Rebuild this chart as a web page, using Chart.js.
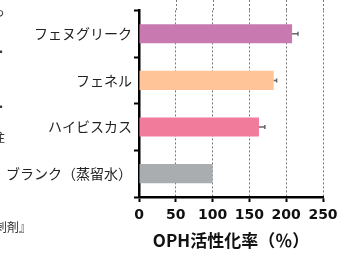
<!DOCTYPE html>
<html>
<head>
<meta charset="utf-8">
<script src="https://cdn.jsdelivr.net/npm/chart.js@4.4.1/dist/chart.umd.min.js"></script>
<style>
  html, body { margin: 0; padding: 0; background: #fff; }
  #wrap { position: relative; width: 340px; height: 253px; overflow: hidden; }
  .frag { position: absolute; font-family: 'Noto Sans CJK JP', sans-serif; font-size: 12px; color: #333; white-space: nowrap; }
</style>
</head>
<body>
<div id="wrap">
  <canvas id="chart" width="340" height="253"></canvas>
  <span class="frag" style="left:-7px;top:3px;">っ</span>
  <span class="frag" style="left:-5px;top:43px;">・</span>
  <span class="frag" style="left:-7px;top:73px;">。</span>
  <span class="frag" style="left:-5px;top:98px;">・</span>
  <span class="frag" style="left:-7px;top:128px;">注</span>
  <span class="frag" style="left:-5px;top:218px;">刺剤』</span>
</div>
<script>
const labels = ['フェヌグリーク', 'フェネル', 'ハイビスカス', 'ブランク（蒸留水）'];
const values = [208, 183, 163, 100];
const errors = [8, 4, 8, 0];
const barColors = ['#c87ab0', '#ffc497', '#f07b9b', '#a9adaf'];
const xTicks = [0, 50, 100, 150, 200, 250];

const fontFamily = "'Noto Sans CJK JP', 'Noto Sans', sans-serif";

// one sided error bars + dotted lines above the plot top
const extras = {
  id: 'extras',
  afterDatasetsDraw(chart) {
    const ctx = chart.ctx;
    const xs = chart.scales.x;
    const meta = chart.getDatasetMeta(0);
    ctx.save();
    ctx.strokeStyle = '#666';
    ctx.lineWidth = 1.5;
    meta.data.forEach((bar, i) => {
      if (!errors[i]) return;
      const x0 = xs.getPixelForValue(values[i]);
      const x1 = xs.getPixelForValue(values[i] + errors[i]);
      ctx.beginPath();
      ctx.moveTo(x0, bar.y);
      ctx.lineTo(x1, bar.y);
      ctx.moveTo(x1, bar.y - 2);
      ctx.lineTo(x1, bar.y + 2);
      ctx.stroke();
    });
    ctx.strokeStyle = '#777';
    ctx.lineWidth = 1;
    ctx.setLineDash([2, 2]);
    xTicks.forEach(v => {
      if (v === 0) return;
      const x = Math.round(xs.getPixelForValue(v)) + 0.5;
      ctx.beginPath();
      ctx.moveTo(x, 0);
      ctx.lineTo(x, chart.chartArea.top);
      ctx.stroke();
    });
    ctx.restore();
  }
};

const data = {
  labels: labels,
  datasets: [{
    data: values,
    backgroundColor: barColors,
    borderWidth: 0,
    categoryPercentage: 1,
    barPercentage: 0.41
  }]
};

const config = {
  type: 'bar',
  data: data,
  options: {
    indexAxis: 'y',
    responsive: false,
    animation: false,
    plugins: {
      legend: { display: false },
      tooltip: { enabled: false }
    },
    layout: {
      padding: { top: 9, right: 17, left: 0, bottom: 0 }
    },
    scales: {
      x: {
        min: 0,
        max: 250,
        afterBuildTicks(scale) {
          scale.ticks = xTicks.map(v => ({ value: v }));
        },
        afterFit(scale) {
          scale.height = 56;
          scale.paddingLeft = 0;
          scale.paddingRight = 0;
        },
        grid: {
          color: '#777',
          lineWidth: 1,
          tickColor: '#000',
          tickWidth: 2,
          tickLength: 5,
          tickBorderDash: []
        },
        border: { color: '#000', width: 2.5, dash: [2, 2] },
        ticks: {
          color: '#111',
          padding: 5,
          font: { family: "'DejaVu Sans', sans-serif", size: 14, weight: 'bold' }
        },
        title: {
          display: true,
          text: 'OPH活性化率（％）',
          color: '#111',
          padding: { top: 0, bottom: 2 },
          font: { family: fontFamily, size: 17, weight: 'bold' }
        }
      },
      y: {
        offset: true,
        afterFit(scale) { scale.width = 139; },
        grid: {
          offset: true,
          drawOnChartArea: false,
          tickColor: '#000',
          tickWidth: 2,
          tickLength: 5
        },
        border: { color: '#000', width: 2.5 },
        ticks: {
          color: '#222',
          padding: 2,
          font: { family: fontFamily, size: 14 }
        }
      }
    }
  },
  plugins: [extras]
};

const myChart = new Chart(document.getElementById('chart'), config);
</script>
</body>
</html>
